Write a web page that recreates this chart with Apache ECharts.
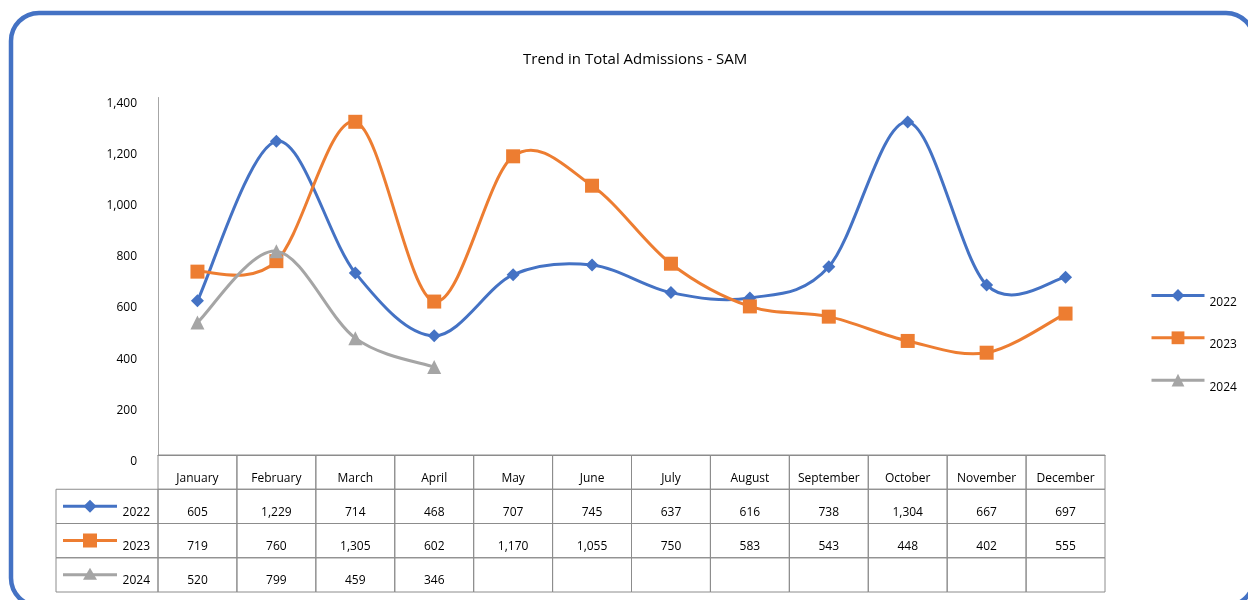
<!DOCTYPE html>
<html>
<head>
<meta charset="utf-8">
<script src="https://cdn.jsdelivr.net/npm/echarts@6/dist/echarts.min.js"></script>
<style>
  html, body { margin: 0; padding: 0; background: #fff; }
  #chart { width: 1248px; height: 600px; }
</style>
</head>
<body>
<div id="chart"></div>
<script>
// Monthly SAM admissions per year
const months = ['January', 'February', 'March', 'April', 'May', 'June', 'July',
  'August', 'September', 'October', 'November', 'December'];
const years = ['2022', '2023', '2024'];
const admissions2022 = [605, 1229, 714, 468, 707, 745, 637, 616, 738, 1304, 667, 697];
const admissions2023 = [719, 760, 1305, 602, 1170, 1055, 750, 583, 543, 448, 402, 555];
const admissions2024 = [520, 799, 459, 346];
const yTicks = { min: 0, max: 1400, interval: 200 };

const seriesData = [admissions2022, admissions2023, admissions2024];
const colors = ['#4472C4', '#ED7D31', '#A5A5A5'];
const symbols = ['diamond', 'rect', 'triangle'];
const symbolSizes = [13, 14, 14];
const FONT = '"Open Sans", "Noto Sans", sans-serif';
const TABLE_LINE = '#8c8c8c';
const HEADER_COL_W = 102;

const fmt = v => (v == null ? '' : v.toLocaleString('en-US'));

// table cells: [monthIndex, rowIndex, text]; row 0 holds the month names
const tableCells = [];
months.forEach((m, i) => {
  tableCells.push([i, 0, m]);
  seriesData.forEach((arr, r) => tableCells.push([i, r + 1, fmt(arr[i])]));
});
const rowHeaders = years.map((y, r) => [0, r + 1, y, r]);

function markerShape(kind, cx, cy, color) {
  if (kind === 0) {
    const s = 6.5;
    return { type: 'polygon', shape: { points: [[cx, cy - s], [cx + s, cy], [cx, cy + s], [cx - s, cy]] }, style: { fill: color } };
  }
  if (kind === 1) {
    return { type: 'rect', shape: { x: cx - 7, y: cy - 7, width: 14, height: 14 }, style: { fill: color } };
  }
  return { type: 'polygon', shape: { points: [[cx, cy - 7], [cx + 7, cy + 5], [cx - 7, cy + 5]] }, style: { fill: color } };
}

// Smoothed curve through the projected points (cubic Bezier, tangent = (next - prev) / 6)
function smoothPath(pts) {
  let d = 'M' + pts[0][0] + ',' + pts[0][1];
  for (let i = 0; i < pts.length - 1; i++) {
    const p0 = pts[Math.max(i - 1, 0)], p1 = pts[i], p2 = pts[i + 1], p3 = pts[Math.min(i + 2, pts.length - 1)];
    const c1 = [p1[0] + (p2[0] - p0[0]) / 6, p1[1] + (p2[1] - p0[1]) / 6];
    const c2 = [p2[0] - (p3[0] - p1[0]) / 6, p2[1] - (p3[1] - p1[1]) / 6];
    d += 'C' + c1.join(',') + ' ' + c2.join(',') + ' ' + p2.join(',');
  }
  return d;
}

const curveSeries = years.map((y, k) => ({
  type: 'custom', xAxisIndex: 0, yAxisIndex: 0, z: 2 + 2 * k, silent: true,
  data: [[0, seriesData[k][0]]],
  renderItem: (params, api) => {
    const pts = seriesData[k].map((v, i) => api.coord([i, v]));
    return {
      type: 'path',
      shape: { pathData: smoothPath(pts) },
      style: { fill: 'none', stroke: colors[k], lineWidth: 3, lineJoin: 'round' }
    };
  }
}));

const chart = echarts.init(document.getElementById('chart'));
chart.setOption({
  animation: false,
  backgroundColor: '#fff',
  title: {
    text: 'Trend in Total Admissions - SAM',
    left: 518, top: 47,
    textStyle: { fontFamily: FONT, fontSize: 15, fontWeight: 'normal', color: '#000' }
  },
  legend: {
    orient: 'vertical', left: 1145, top: 284,
    itemWidth: 53, itemHeight: 16, itemGap: 23,
    lineStyle: { width: 3, opacity: 1 },
    formatter: name => '{t|' + name + '}',
    textStyle: {
      fontFamily: FONT, fontSize: 12, color: '#000',
      rich: { t: { fontFamily: FONT, fontSize: 12, color: '#000', padding: [14, 0, 0, 0] } }
    },
    data: years
  },
  graphic: [{
    type: 'rect', z: 100, silent: true,
    shape: { x: 11, y: 13, width: 1243, height: 593, r: 28 },
    style: { fill: 'none', stroke: '#4472C4', lineWidth: 4.5 }
  }],
  grid: [
    { left: 158, right: 143, top: 97.5, bottom: 144.5 },
    { left: 158, right: 143, top: 455, bottom: 8 }
  ],
  xAxis: [
    {
      type: 'category', data: months, boundaryGap: true, gridIndex: 0,
      axisLine: { show: true, lineStyle: { color: TABLE_LINE, width: 1 } },
      axisTick: { show: false }, axisLabel: { show: false }
    },
    {
      type: 'category', data: months, gridIndex: 1, show: false
    }
  ],
  yAxis: [
    {
      type: 'value', gridIndex: 0, min: yTicks.min, max: yTicks.max, interval: yTicks.interval,
      splitLine: { show: false },
      axisLine: { show: true, lineStyle: { color: '#a6a6a6', width: 1 } },
      axisTick: { show: false },
      axisLabel: {
        fontFamily: FONT, fontSize: 12, color: '#000', margin: 21,
        verticalAlign: 'top',
        formatter: v => v.toLocaleString('en-US')
      }
    },
    {
      type: 'category', data: ['', ...years], inverse: true, gridIndex: 1, show: false
    }
  ],
  series: [
    ...curveSeries,
    ...years.map((y, k) => ({
      name: y, type: 'line', xAxisIndex: 0, yAxisIndex: 0, z: 3 + 2 * k,
      data: seriesData[k],
      symbol: symbols[k], symbolSize: symbolSizes[k], showSymbol: true,
      lineStyle: { color: colors[k], width: 3, opacity: 0 },
      itemStyle: { color: colors[k] }
    })),
    {
      type: 'custom', xAxisIndex: 1, yAxisIndex: 1, data: tableCells, clip: false,
      renderItem: (params, api) => {
        const c = api.coord([api.value(0), api.value(1)]);
        const sz = api.size([1, 1]);
        const x0 = c[0] - sz[0] / 2, y0 = c[1] - sz[1] / 2;
        return {
          type: 'group',
          children: [
            { type: 'rect', shape: { x: x0, y: y0, width: sz[0], height: sz[1] },
              style: { fill: 'none', stroke: TABLE_LINE, lineWidth: 1 } },
            { type: 'text', style: {
                text: tableCells[params.dataIndex][2], x: c[0], y: y0 + sz[1] - 11,
                align: 'center', verticalAlign: 'middle',
                fontFamily: FONT, fontSize: 12, fill: '#000' } }
          ]
        };
      }
    },
    {
      type: 'custom', xAxisIndex: 1, yAxisIndex: 1, data: rowHeaders, clip: false,
      renderItem: (params, api) => {
        const c = api.coord([api.value(0), api.value(1)]);
        const sz = api.size([1, 1]);
        const x1 = c[0] - sz[0] / 2, x0 = x1 - HEADER_COL_W, y0 = c[1] - sz[1] / 2;
        const k = rowHeaders[params.dataIndex][3];
        const ly = y0 + 17;
        return {
          type: 'group',
          children: [
            { type: 'rect', shape: { x: x0, y: y0, width: HEADER_COL_W, height: sz[1] },
              style: { fill: 'none', stroke: TABLE_LINE, lineWidth: 1 } },
            { type: 'line', shape: { x1: x0 + 7, y1: ly, x2: x0 + 61, y2: ly },
              style: { stroke: colors[k], lineWidth: 3 } },
            markerShape(k, x0 + 34, ly, colors[k]),
            { type: 'text', style: {
                text: rowHeaders[params.dataIndex][2], x: x0 + 94, y: y0 + sz[1] - 11,
                align: 'right', verticalAlign: 'middle',
                fontFamily: FONT, fontSize: 12, fill: '#000' } }
          ]
        };
      }
    }
  ]
});
</script>
</body>
</html>
